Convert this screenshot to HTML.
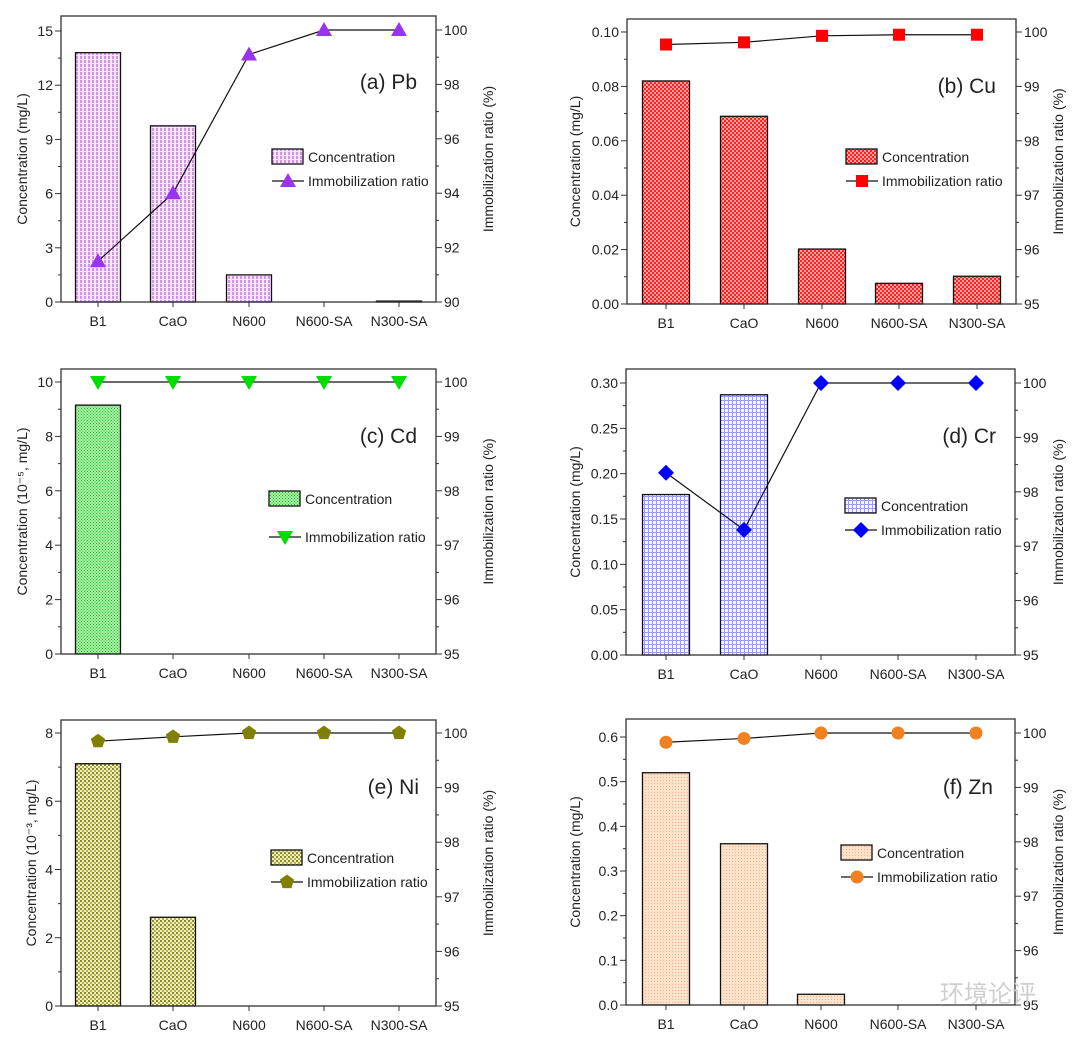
<!DOCTYPE html>
<html><head><meta charset="utf-8"><style>
body{margin:0;background:#fff}
svg text{font-family:"Liberation Sans",Arial,sans-serif;fill:#222}
</style></head><body>
<svg id="s" width="1080" height="1036" xmlns="http://www.w3.org/2000/svg">
<defs>
<pattern id="pa" width="4" height="4" patternUnits="userSpaceOnUse"><rect width="4" height="4" fill="#f8e8fb"/><rect x="0" y="0" width="2" height="3" fill="#d890ea"/></pattern>
<pattern id="pb" width="4" height="4" patternUnits="userSpaceOnUse"><rect width="4" height="4" fill="#ffa0a0"/><rect width="2" height="2" fill="#ff2020"/><rect x="2" y="2" width="2" height="2" fill="#ff2020"/></pattern>
<pattern id="pc" width="3" height="3" patternUnits="userSpaceOnUse"><rect width="3" height="3" fill="#a8f0a8"/><rect width="1" height="1" fill="#20c020"/><rect x="1.5" y="1.5" width="1" height="1" fill="#20c020"/></pattern>
<pattern id="pd" width="4" height="4" patternUnits="userSpaceOnUse"><rect width="4" height="4" fill="#f4f4ff"/><rect width="4" height="1" fill="#9a9aee"/><rect width="1" height="4" fill="#9a9aee"/></pattern>
<pattern id="pe" width="4" height="4" patternUnits="userSpaceOnUse"><rect width="4" height="4" fill="#f0f0c0"/><rect width="2" height="2" fill="#8a8a20"/><rect x="2" y="2" width="2" height="2" fill="#b0b050"/></pattern>
<pattern id="pf" width="3" height="3" patternUnits="userSpaceOnUse"><rect width="3" height="3" fill="#fde3cc"/><rect width="1" height="1" fill="#f4b080"/></pattern>
</defs>
</svg>
<script>
var S=document.getElementById('s'),NS='http://www.w3.org/2000/svg';
function el(t,a,txt){var e=document.createElementNS(NS,t);for(var k in a)e.setAttribute(k,a[k]);if(txt!=null)e.textContent=txt;S.appendChild(e);return e;}
var cats=['B1','CaO','N600','N600-SA','N300-SA'];
var P=[
{x0:61,x1:436,y0:16,y1:302,lmax:15,lzero:302,ltop:31,lmaj:3,lmin:1.5,ldec:0,rmin:90,rmax:100,rtop:30,rmaj:2,rmin2:1,
 c:[98,173,249,324,399],hw:22.5,bars:[13.8,9.75,1.5,0,0.05],r:[91.5,94,99.1,100,100],pat:'pa',mk:'tri',col:'#9933ee',
 title:'(a) Pb',tx:417,ty:89,leg:[272,149],ylab:'Concentration (mg/L)',lx:27,rx:493},
{x0:627,x1:1016,y0:19,y1:304,lmax:0.1,lzero:304,ltop:32,lmaj:0.02,lmin:0.01,ldec:2,rmin:95,rmax:100,rtop:32,rmaj:1,rmin2:0.5,
 c:[666,744,822,899,977],hw:23.5,bars:[0.082,0.069,0.0202,0.0076,0.0102],r:[99.77,99.81,99.93,99.95,99.95],pat:'pb',mk:'sq',col:'#ff0000',
 title:'(b) Cu',tx:996,ty:93,leg:[846,149],ylab:'Concentration (mg/L)',lx:580,rx:1063},
{x0:61,x1:436,y0:369,y1:654,lmax:10,lzero:654,ltop:382,lmaj:2,lmin:1,ldec:0,rmin:95,rmax:100,rtop:382,rmaj:1,rmin2:0.5,
 c:[98,173,249,324,399],hw:22.5,bars:[9.15,0,0,0,0],r:[100,100,100,100,100],pat:'pc',mk:'dtri',col:'#00dd00',
 title:'(c) Cd',tx:417,ty:443,leg:[269,491],ylab:'Concentration (10⁻⁵, mg/L)',lx:27,rx:493,legdy:38},
{x0:626,x1:1015,y0:369,y1:655,lmax:0.3,lzero:655,ltop:383,lmaj:0.05,lmin:0.025,ldec:2,rmin:95,rmax:100,rtop:383,rmaj:1,rmin2:0.5,
 c:[666,744,821,898,976],hw:23.5,bars:[0.177,0.287,0,0,0],r:[98.35,97.3,100,100,100],pat:'pd',mk:'dia',col:'#0000ff',
 title:'(d) Cr',tx:996,ty:443,leg:[845,498],ylab:'Concentration (mg/L)',lx:580,rx:1063},
{x0:61,x1:436,y0:720,y1:1006,lmax:8,lzero:1006,ltop:733,lmaj:2,lmin:1,ldec:0,rmin:95,rmax:100,rtop:733,rmaj:1,rmin2:0.5,
 c:[98,173,249,324,399],hw:22.5,bars:[7.1,2.6,0,0,0],r:[99.85,99.93,100,100,100],pat:'pe',mk:'pent',col:'#808000',
 title:'(e) Ni',tx:419,ty:794,leg:[271,850],ylab:'Concentration (10⁻³, mg/L)',lx:36,rx:493},
{x0:626,x1:1015,y0:719,y1:1005,lmax:0.6,lzero:1005,ltop:737,lmaj:0.1,lmin:0.05,ldec:1,rmin:95,rmax:100,rtop:733,rmaj:1,rmin2:0.5,
 c:[666,744,821,898,976],hw:23.5,bars:[0.52,0.361,0.024,0,0],r:[99.83,99.9,100,100,100],pat:'pf',mk:'circ',col:'#f08020',
 title:'(f) Zn',tx:993,ty:794,leg:[841,845],ylab:'Concentration (mg/L)',lx:580,rx:1063}
];
function marker(t,x,y,col){
 var s=7;
 if(t=='tri')el('polygon',{points:(x-s-1)+','+(y+s-1)+' '+(x+s+1)+','+(y+s-1)+' '+x+','+(y-s-1),fill:col});
 else if(t=='dtri')el('polygon',{points:(x-s-1)+','+(y-s+1)+' '+(x+s+1)+','+(y-s+1)+' '+x+','+(y+s+1),fill:col});
 else if(t=='sq')el('rect',{x:x-6,y:y-6,width:12,height:12,fill:col});
 else if(t=='dia')el('polygon',{points:x+','+(y-8)+' '+(x+8)+','+y+' '+x+','+(y+8)+' '+(x-8)+','+y,fill:col});
 else if(t=='circ')el('circle',{cx:x,cy:y,r:6.5,fill:col});
 else if(t=='pent'){var p=[];for(var i=0;i<5;i++){var a=-Math.PI/2+i*2*Math.PI/5;p.push((x+7.5*Math.cos(a))+','+(y+7.5*Math.sin(a)));}el('polygon',{points:p.join(' '),fill:col});}
}
P.forEach(function(p){
 var ly=function(v){return p.lzero-(p.lzero-p.ltop)*v/p.lmax;};
 var ry=function(v){return p.y1-(p.y1-p.rtop)*(v-p.rmin)/(p.rmax-p.rmin);};
 p.bars.forEach(function(v,i){if(v<=0)return;var y=ly(v);el('rect',{x:p.c[i]-p.hw,y:y,width:2*p.hw,height:p.lzero-y,fill:'url(#'+p.pat+')',stroke:'#111','stroke-width':1.3});});
 el('rect',{x:p.x0,y:p.y0,width:p.x1-p.x0,height:p.y1-p.y0,fill:'none',stroke:'#333','stroke-width':1.3});
 var n=Math.round(p.lmax/p.lmin);
 for(var i=0;i<=n;i++){var v=i*p.lmin,y=ly(v),maj=Math.abs(v/p.lmaj-Math.round(v/p.lmaj))<1e-6;
  el('line',{x1:p.x0-(maj?6:3),x2:p.x0,y1:y,y2:y,stroke:'#333','stroke-width':1});
  if(maj)el('text',{x:p.x0-8,y:y+5,'text-anchor':'end','font-size':14},v.toFixed(p.ldec));}
 var m=Math.round((p.rmax-p.rmin)/p.rmin2);
 for(var i=0;i<=m;i++){var v=p.rmin+i*p.rmin2,y=ry(v),maj=Math.abs((v-p.rmin)/p.rmaj-Math.round((v-p.rmin)/p.rmaj))<1e-6;
  el('line',{x1:p.x1,x2:p.x1+(maj?6:3),y1:y,y2:y,stroke:'#333','stroke-width':1});
  if(maj)el('text',{x:p.x1+8,y:y+5,'font-size':14},String(Math.round(v)));}
 p.c.forEach(function(x,i){el('line',{x1:x,x2:x,y1:p.y1,y2:p.y1+5,stroke:'#333'});el('text',{x:x,y:p.y1+24,'text-anchor':'middle','font-size':14},cats[i]);});
 var pts=p.c.map(function(x,i){return x+','+ry(p.r[i]);}).join(' ');
 el('polyline',{points:pts,fill:'none',stroke:'#111','stroke-width':1.2});
 p.c.forEach(function(x,i){marker(p.mk,x,ry(p.r[i]),p.col);});
 el('text',{x:p.tx,y:p.ty,'text-anchor':'end','font-size':21},p.title);
 var lx=p.leg[0],lyy=p.leg[1],dy=p.legdy||24;
 el('rect',{x:lx,y:lyy,width:31,height:15,fill:'url(#'+p.pat+')',stroke:'#111','stroke-width':1.3});
 el('text',{x:lx+36,y:lyy+13,'font-size':14},'Concentration');
 var y2=lyy+8+dy;
 el('line',{x1:lx,x2:lx+32,y1:y2,y2:y2,stroke:'#111','stroke-width':1.2});
 marker(p.mk,lx+16,y2,p.col);
 el('text',{x:lx+36,y:y2+5,'font-size':14},'Immobilization ratio');
 var cy=(p.y0+p.y1)/2;
 el('text',{x:p.lx,y:cy,'text-anchor':'middle','font-size':14,transform:'rotate(-90 '+p.lx+' '+cy+')'},p.ylab);
 el('text',{x:p.rx,y:cy,'text-anchor':'middle','font-size':14,transform:'rotate(-90 '+p.rx+' '+cy+')'},'Immobilization ratio (%)');
});
el('text',{x:940,y:1002,'font-size':24,style:'fill:#cfcfcf;font-family:"Noto Sans CJK SC",sans-serif'},'环境论评');
</script>
</body></html>
